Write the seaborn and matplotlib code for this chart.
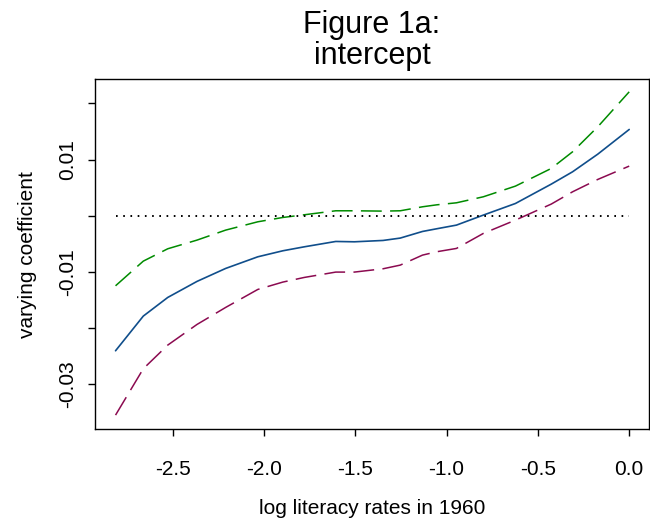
import matplotlib
matplotlib.use("Agg")
import matplotlib.pyplot as plt
import seaborn as sns

# log literacy grid where the curves are evaluated
x_est = [-2.813, -2.661, -2.527, -2.367, -2.210, -2.034, -1.897, -1.779, -1.607, -1.505,
         -1.348, -1.254, -1.132, -1.054, -0.946, -0.799, -0.623, -0.427, -0.310, -0.172, 0.0]

# varying coefficient estimate (solid) and the two bands (dashed)
coef = [-0.02402, -0.01785, -0.01453, -0.01168, -0.00937, -0.00730, -0.00623, -0.00552, -0.00457, -0.00463,
        -0.00439, -0.00397, -0.00279, -0.00231, -0.00166, 0.00012, 0.00219, 0.00563, 0.00783, 0.01097, 0.01536]
upper = [-0.01246, -0.00807, -0.00587, -0.00433, -0.00255, -0.00107, -0.00030, 0.00018, 0.00089, 0.00089,
         0.00083, 0.00089, 0.00160, 0.00195, 0.00231, 0.00338, 0.00528, 0.00842, 0.01139, 0.01584, 0.02206]
lower = [-0.03547, -0.02722, -0.02301, -0.01934, -0.01631, -0.01311, -0.01180, -0.01097, -0.01002, -0.01002,
         -0.00943, -0.00878, -0.00700, -0.00640, -0.00581, -0.00314, -0.00077, 0.00208, 0.00427, 0.00647, 0.00884]

# zero reference line
zero_x = [-2.813, 0.0]
zero_y = [0.0, 0.0]

xticks = [-2.5, -2.0, -1.5, -1.0, -0.5, 0.0]
xtick_labels = ["-2.5", "-2.0", "-1.5", "-1.0", "-0.5", "0.0"]
yticks = [-0.03, -0.02, -0.01, 0.0, 0.01, 0.02]
ytick_labels = ["-0.03", "", "-0.01", "", "0.01", ""]

sns.set_style("ticks")
plt.rcParams["font.family"] = ["Liberation Sans", "DejaVu Sans"]
plt.rcParams["axes.unicode_minus"] = False
plt.rcParams["lines.scale_dashes"] = False
plt.rcParams["text.color"] = "black"
plt.rcParams["axes.labelcolor"] = "black"

fig = plt.figure(figsize=(6.5, 5.3), dpi=100)
ax = fig.add_axes([0.14615, 0.1906, 0.8523, 0.6598])

sns.lineplot(x=x_est, y=upper, ax=ax, color="#008B00", linewidth=1.1,
             linestyle=(0, (15, 6)), sort=False, estimator=None)
sns.lineplot(x=x_est, y=coef, ax=ax, color="#104E8B", linewidth=1.2,
             sort=False, estimator=None)
sns.lineplot(x=x_est, y=lower, ax=ax, color="#8B0A50", linewidth=1.1,
             linestyle=(0, (15, 6)), sort=False, estimator=None)
ax.plot(zero_x, zero_y, color="black", linewidth=1.4, linestyle=(0, (1.2, 4.0)))

ax.set_xlim(-2.9255, 0.1084)
ax.set_ylim(-0.03794, 0.02429)
ax.set_xticks(xticks)
ax.set_xticklabels(xtick_labels)
ax.set_yticks(yticks)
ax.set_yticklabels(ytick_labels, rotation=90, va="center")

for side in ax.spines.values():
    side.set_visible(True)
    side.set_color("black")
    side.set_linewidth(1.0)

ax.tick_params(axis="both", direction="out", length=5, width=1.0, colors="black",
               labelsize=15)
ax.tick_params(axis="x", pad=17)
ax.tick_params(axis="y", pad=8)

ax.set_title("Figure 1a:\nintercept", fontsize=22, pad=11, linespacing=1.05, color="black")
ax.set_xlabel("log literacy rates in 1960", fontsize=15)
ax.set_ylabel("varying coefficient", fontsize=15)
ax.xaxis.set_label_coords(0.5, -0.2)
ax.yaxis.set_label_coords(-0.105, 0.5)

fig.savefig("out.png", dpi=100)
